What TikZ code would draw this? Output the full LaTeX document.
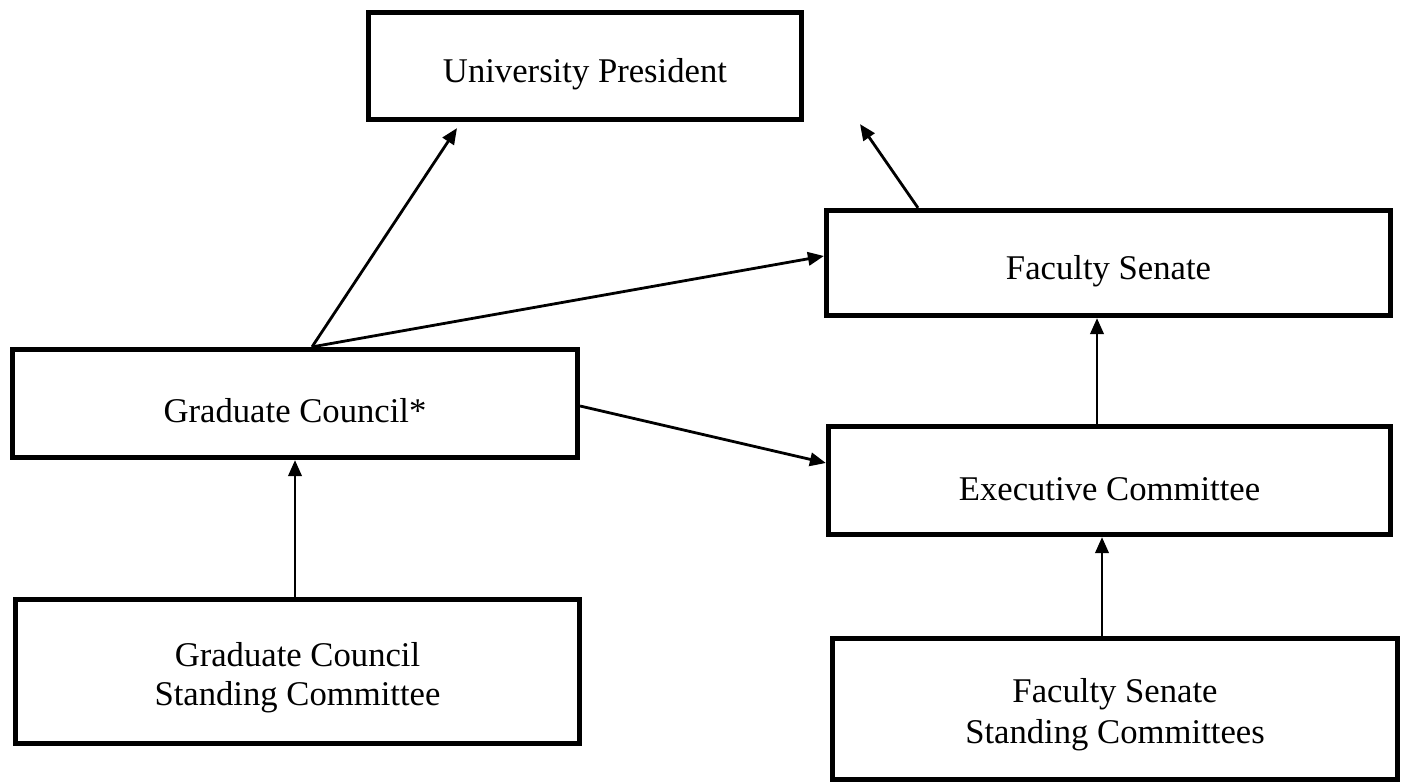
\documentclass[tikz,border=0pt]{standalone}
\usepackage{fontspec}
\setmainfont{Liberation Serif}
\usetikzlibrary{arrows.meta,calc}
\newcommand\mystrut[1]{\rule{0pt}{#1}}
\begin{document}
\begin{tikzpicture}[x=0.75pt,y=-0.75pt,
  box/.style={draw=black,line width=3.9pt,fill=white,align=center,
    font=\fontsize{26}{29}\selectfont,inner sep=0pt},
  link/.style={draw=black,line width=2.1pt,-{Triangle[length=12pt,width=10pt]}}]
\useasboundingbox (0,0) rectangle (1406,782);
\node[box,minimum width={433*0.75pt},minimum height={107*0.75pt}] (up) at (585,66) {\mystrut{30pt}University President};
\node[box,minimum width={564*0.75pt},minimum height={105*0.75pt}] (fs) at (1108.5,263) {\mystrut{30pt}Faculty Senate};
\node[box,minimum width={565*0.75pt},minimum height={108*0.75pt}] (gc) at (295,403.5) {\mystrut{29pt}Graduate Council*};
\node[box,minimum width={562*0.75pt},minimum height={108*0.75pt}] (ec) at (1109.5,480.5) {\mystrut{30pt}Executive Committee};
\node[box,minimum width={564*0.75pt},minimum height={144*0.75pt}] (gcsc) at (297.5,671.5) {\mystrut{27pt}Graduate Council\\Standing Committee};
\node[box,minimum width={565*0.75pt},minimum height={141*0.75pt}] (fssc) at (1115,709) {\mystrut{27pt}Faculty Senate\\[2pt]Standing Committees};
\draw[link] ($(gc.north)+(17,0)$) -- ($(up.south)+(-128,6)$);
\draw[link] ($(gc.north)+(17,0)$) -- ($(fs.west)+(0,-7)$);
\draw[link] ($(fs.north)+(-190.5,0)$) -- ($(up.south)+(275,2)$);
\draw[link] ($(gc.east)+(0,2.5)$) -- ($(ec.west)+(0,-17.5)$);
\draw[link] ($(ec.north)+(-12.5,0)$) -- ($(fs.south)+(-11.5,0)$);
\draw[link] ($(gcsc.north)+(-2.5,0)$) -- (gc.south);
\draw[link] ($(fssc.north)+(-13,0)$) -- ($(ec.south)+(-7.5,0)$);
\end{tikzpicture}
\end{document}
